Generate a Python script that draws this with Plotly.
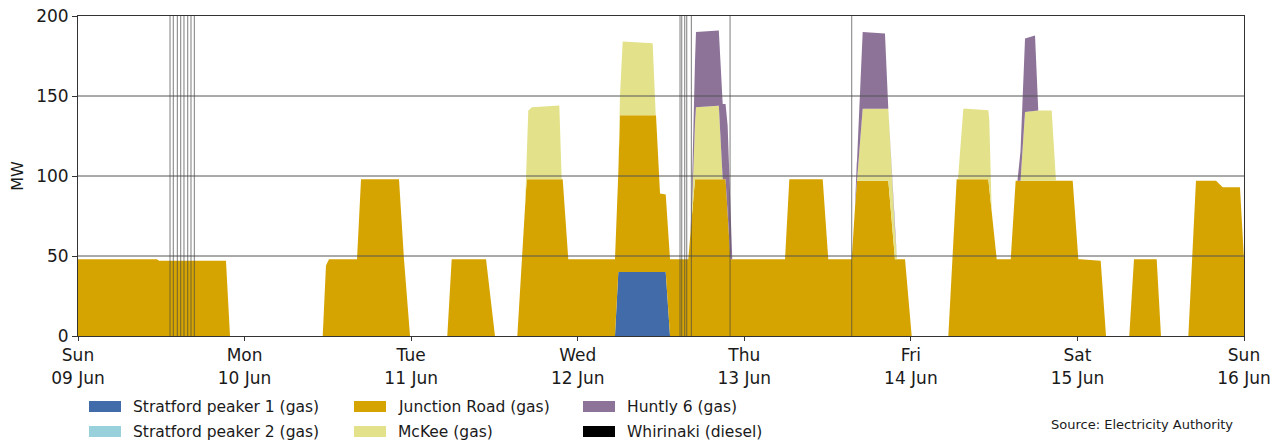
import pandas as pd
import plotly.graph_objects as go

START = pd.Timestamp("2024-06-09 00:00")

# Generation (MW); times are hours since Sun 09 Jun 00:00.
sp1_hours = [0.0, 77.37, 77.85, 84.68, 85.30, 168.0]
sp1_mw = [0, 0, 40, 40, 0, 0]

sp2_hours = [0.0, 168.0]
sp2_mw = [0, 0]

jr_hours = [0.0, 11.38, 11.67, 21.32, 21.90,
            35.26, 35.73, 36.16, 40.20, 40.78, 46.25, 46.97, 47.84,
            53.21, 53.84, 58.79, 60.08,
            63.30, 64.65, 69.84, 70.64, 77.37, 77.85, 78.09, 83.28, 83.86, 85.30, 87.93, 88.90, 93.30, 94.00,
            101.87, 102.49, 107.30, 108.10, 111.48, 112.20, 116.75, 117.71, 119.16, 120.12,
            125.40, 126.60, 131.16, 132.37, 134.39, 135.10, 143.32, 144.13, 144.37, 147.35, 148.12,
            151.47, 152.15, 155.42, 156.04,
            159.98, 161.08, 163.97, 164.93, 167.42, 168.0]
jr_mw = [48, 48, 47, 47, 0,
         0, 44, 48, 48, 98, 98, 48, 0,
         0, 48, 48, 0,
         0, 98, 98, 48, 48, 62, 98, 98, 49, 48, 48, 98, 98, 48,
         48, 98, 98, 48, 48, 97, 97, 48, 48, 0,
         0, 98, 98, 48, 48, 97, 97, 48, 48, 47, 0,
         0, 48, 48, 0,
         0, 97, 97, 93, 93, 48]

mckee_hours = [0.0, 64.40, 64.88, 65.41, 69.35, 69.69,
               77.95, 78.48, 82.80, 83.24,
               88.39, 89.04, 92.33, 92.89,
               112.24, 113.06, 116.75, 117.71, 118.00,
               126.79, 127.56, 128.05, 131.30, 131.65,
               135.80, 136.45, 138.13, 140.29, 140.91, 168.0]
mckee_mw = [0, 0, 43, 45, 46, 0,
            0, 46, 45, 0,
            0, 45, 46, 0,
            0, 45, 45, 18, 0,
            0, 44, 44, 43, 0,
            0, 43, 44, 44, 0, 0]

huntly_hours = [0.0, 88.25, 89.04, 92.26, 93.30, 93.60, 93.94, 94.27,
                111.95, 113.06, 116.27, 116.75,
                135.36, 136.45, 137.89, 138.36, 168.0]
huntly_mw = [0, 0, 47, 47, 47, 55, 35, 0,
             0, 48, 47, 0,
             0, 46, 47, 0, 0]

whirinaki_hours = [0.0, 168.0]
whirinaki_mw = [0, 0]

event_hours = [13.26, 13.73, 14.31, 14.80, 15.27, 15.81, 16.28, 16.76,
               86.74, 86.99, 87.42, 87.71, 88.37, 93.95, 111.48]

day_hours = [0, 24, 48, 72, 96, 120, 144, 168]
day_labels = ["Sun<br>09 Jun", "Mon<br>10 Jun", "Tue<br>11 Jun", "Wed<br>12 Jun",
              "Thu<br>13 Jun", "Fri<br>14 Jun", "Sat<br>15 Jun", "Sun<br>16 Jun"]
y_ticks = [0, 50, 100, 150, 200]

series_names = ["Stratford peaker 1 (gas)", "Stratford peaker 2 (gas)", "Junction Road (gas)",
                "McKee (gas)", "Huntly 6 (gas)", "Whirinaki (diesel)"]
series_hours = [sp1_hours, sp2_hours, jr_hours, mckee_hours, huntly_hours, whirinaki_hours]
series_mw = [sp1_mw, sp2_mw, jr_mw, mckee_mw, huntly_mw, whirinaki_mw]
series_colors = ["#426ca9", "#98d1dc", "#d6a400", "#e3e28b", "#8e7398", "#000000"]

# ---- layout geometry (page pixels; the page body adds an 8px margin) ----
OFF = 8
W, H = 1288 - OFF, 441 - OFF
PL, PR, PT, PB = 78, 1244, 16, 336
FONT = "DejaVu Sans"
TXT = "#1a1a1a"


def px_x(px):
    return (px - PL) / (PR - PL)


def px_y(py):
    return (PB - py) / (PB - PT)


def to_time(hours):
    return START + pd.to_timedelta(hours, unit="h")


fig = go.Figure()
for i in range(len(series_names)):
    kw = dict(stackgaps="interpolate") if i == 0 else {}
    fig.add_trace(go.Scatter(
        x=to_time(series_hours[i]), y=series_mw[i], name=series_names[i], mode="lines",
        line=dict(width=0, color=series_colors[i]), fillcolor=series_colors[i],
        stackgroup="gen", showlegend=False, **kw))

for v in y_ticks[1:-1]:
    fig.add_hline(y=v, line=dict(color="#555555", width=1), layer="above")
for h in event_hours:
    fig.add_vline(x=to_time([h])[0], line=dict(color="rgba(70,70,70,0.7)", width=1), layer="above")

# legend laid out in 3 columns x 2 rows (column-major order, like the reference)
col_swatch_x = [89, 354, 583]
row_center_y = [406.5, 431.5]
for i, name in enumerate(series_names):
    c, r = divmod(i, 2)
    x0 = col_swatch_x[c]
    yc = row_center_y[r]
    fig.add_shape(type="rect", xref="paper", yref="paper",
                  x0=px_x(x0), x1=px_x(x0 + 32), y0=px_y(yc + 5.5), y1=px_y(yc - 5.5),
                  fillcolor=series_colors[i], line=dict(width=0), layer="above")
    fig.add_annotation(text=name, xref="paper", yref="paper", x=px_x(x0 + 42), y=px_y(yc),
                       xanchor="left", yanchor="middle", showarrow=False,
                       font=dict(family=FONT, size=15.5, color=TXT))

fig.add_annotation(text="Source: Electricity Authority", xref="paper", yref="paper",
                   x=px_x(1235), y=px_y(424), xanchor="right", yanchor="middle",
                   showarrow=False, font=dict(family=FONT, size=13, color=TXT))

fig.update_layout(
    width=W, height=H,
    margin=dict(l=PL - OFF, r=W + OFF - PR, t=PT - OFF, b=H + OFF - PB, autoexpand=False),
    paper_bgcolor="white", plot_bgcolor="white",
    font=dict(family=FONT, color=TXT),
    showlegend=False,
    xaxis=dict(
        type="date", range=[to_time([0])[0], to_time([168])[0]],
        tickvals=to_time(day_hours), ticktext=day_labels,
        showgrid=False, zeroline=False,
        showline=True, linecolor="#333333", linewidth=1, mirror=True,
        ticks="outside", ticklen=4, tickcolor="#333333",
        tickfont=dict(family=FONT, size=17, color=TXT),
        ticklabeloverflow="allow",
    ),
    yaxis=dict(
        range=[0, 200], tickvals=y_ticks,
        showgrid=False, zeroline=False,
        showline=True, linecolor="#333333", linewidth=1, mirror=True,
        ticks="outside", ticklen=5, tickcolor="#333333",
        tickfont=dict(family=FONT, size=17, color=TXT),
        ticklabeloverflow="allow",
        title=dict(text="MW", font=dict(family=FONT, size=16, color=TXT), standoff=8),
    ),
)

fig.write_html("out.html")
